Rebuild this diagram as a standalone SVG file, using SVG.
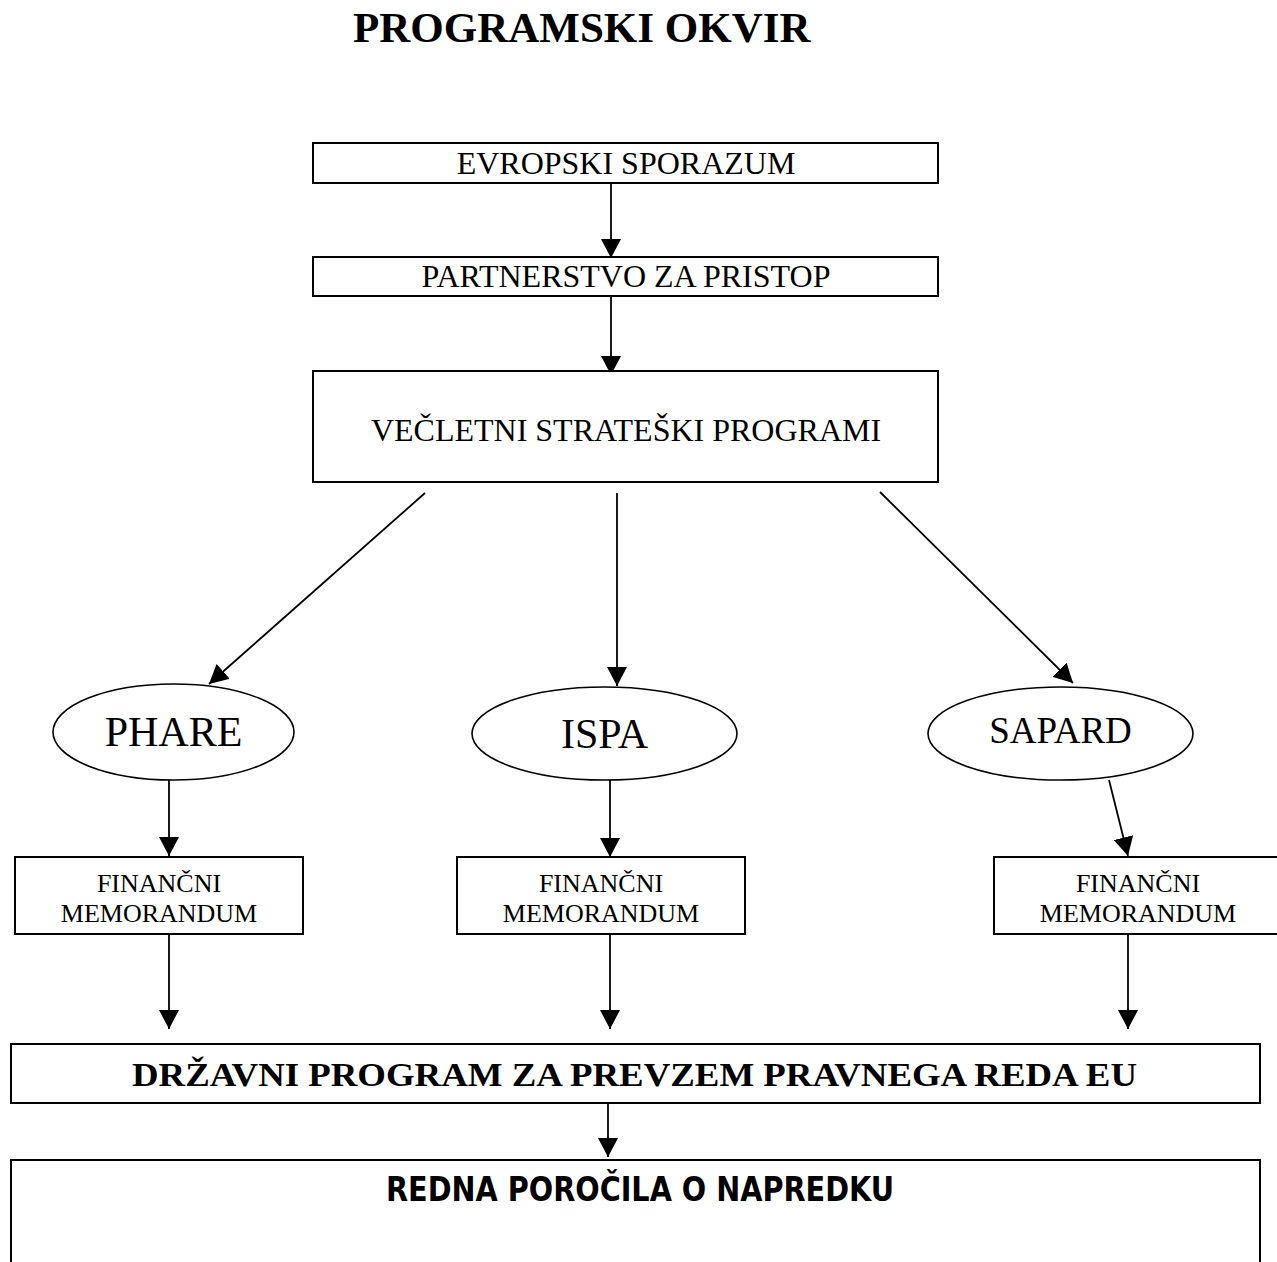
<svg xmlns="http://www.w3.org/2000/svg" width="1277" height="1262" viewBox="0 0 1277 1262">
<style>
  .box { fill: #fff; stroke: #000; stroke-width: 2; }
  .ell { fill: #fff; stroke: #000; stroke-width: 1.6; }
  .serif { font-family: "Liberation Serif", "Times New Roman", serif; fill: #000; }
  .conn line { stroke: #000; stroke-width: 1.8; fill: none; marker-end: url(#ah); }
</style>
<defs>
  <marker id="ah" viewBox="0 0 19 20" refX="19" refY="10" markerWidth="19" markerHeight="20" markerUnits="userSpaceOnUse" orient="auto">
    <path d="M0,0 L19,10 L0,20 z" fill="#000"/>
  </marker>
</defs>
<rect x="0" y="0" width="1277" height="1262" fill="#fff"/>

<text id="title" class="serif" x="353" y="42" font-size="43" font-weight="bold">PROGRAMSKI OKVIR</text>

<g id="conns" class="conn">
  <line x1="611" y1="183" x2="611" y2="258"/>
  <line x1="611" y1="296" x2="611" y2="375"/>
  <line x1="425" y1="493" x2="209" y2="684"/>
  <line x1="617" y1="493" x2="617" y2="686"/>
  <line x1="880" y1="492" x2="1073" y2="683"/>
  <line x1="169" y1="780" x2="169" y2="856"/>
  <line x1="610" y1="780" x2="610" y2="857"/>
  <line x1="1109" y1="780" x2="1128" y2="856"/>
  <line x1="169" y1="934" x2="169" y2="1029"/>
  <line x1="610" y1="934" x2="610" y2="1029"/>
  <line x1="1128" y1="934" x2="1128" y2="1029"/>
  <line x1="608" y1="1103" x2="608" y2="1157"/>
</g>

<g id="evropski">
  <rect class="box" x="313" y="143" width="625" height="40"/>
  <text class="serif" x="626" y="174" font-size="32" text-anchor="middle">EVROPSKI SPORAZUM</text>
</g>
<g id="partnerstvo">
  <rect class="box" x="313" y="257" width="625" height="39"/>
  <text class="serif" x="626" y="287" font-size="32" text-anchor="middle">PARTNERSTVO ZA PRISTOP</text>
</g>
<g id="vecletni">
  <rect class="box" x="313" y="371" width="625" height="111"/>
  <text class="serif" x="626" y="441" font-size="32" text-anchor="middle">VEČLETNI STRATEŠKI PROGRAMI</text>
</g>

<g id="phare">
  <ellipse class="ell" cx="173.5" cy="732" rx="120.5" ry="48"/>
  <text class="serif" x="173.5" y="746" font-size="42" text-anchor="middle">PHARE</text>
</g>
<g id="ispa">
  <ellipse class="ell" cx="604.5" cy="733.5" rx="132.5" ry="46.5"/>
  <text class="serif" x="604.5" y="748" font-size="42" text-anchor="middle">ISPA</text>
</g>
<g id="sapard">
  <ellipse class="ell" cx="1060.5" cy="733.5" rx="132.5" ry="46.5"/>
  <text class="serif" x="1060.5" y="743" font-size="37" text-anchor="middle">SAPARD</text>
</g>

<g id="fm1">
  <rect class="box" x="15" y="857" width="288" height="77"/>
  <text class="serif" x="159" y="892" font-size="26" text-anchor="middle">FINANČNI</text>
  <text class="serif" x="159" y="922" font-size="26" text-anchor="middle">MEMORANDUM</text>
</g>
<g id="fm2">
  <rect class="box" x="457" y="857" width="288" height="77"/>
  <text class="serif" x="601" y="892" font-size="26" text-anchor="middle">FINANČNI</text>
  <text class="serif" x="601" y="922" font-size="26" text-anchor="middle">MEMORANDUM</text>
</g>
<g id="fm3">
  <rect class="box" x="994" y="857" width="288" height="77"/>
  <text class="serif" x="1138" y="892" font-size="26" text-anchor="middle">FINANČNI</text>
  <text class="serif" x="1138" y="922" font-size="26" text-anchor="middle">MEMORANDUM</text>
</g>

<g id="drzavni">
  <rect class="box" x="11" y="1044" width="1249" height="59"/>
  <text class="serif" x="634.5" y="1086" font-size="34" font-weight="bold" text-anchor="middle" textLength="1005" lengthAdjust="spacingAndGlyphs">DRŽAVNI PROGRAM ZA PREVZEM PRAVNEGA REDA EU</text>
</g>
<g id="redna">
  <rect class="box" x="11" y="1160" width="1249" height="130"/>
  <text x="640" y="1201" font-family="'DejaVu Sans Condensed', 'DejaVu Sans', Verdana, sans-serif" font-size="33" font-weight="bold" text-anchor="middle" textLength="508" lengthAdjust="spacingAndGlyphs" fill="#000">REDNA POROČILA O NAPREDKU</text>
</g>
</svg>
